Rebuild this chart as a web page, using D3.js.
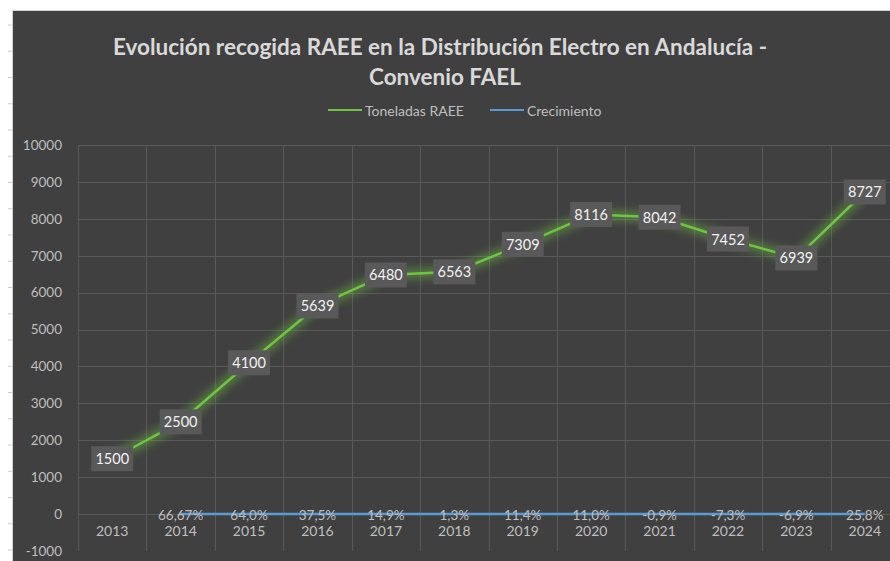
<!DOCTYPE html>
<html>
<head>
<meta charset="utf-8">
<script src="https://cdn.jsdelivr.net/npm/d3@7"></script>
<style>
  html, body { margin: 0; padding: 0; background: #ffffff; }
  svg { display: block; }
</style>
</head>
<body>
<div id="chart"></div>
<script>

// Data
var years = ["2013", "2014", "2015", "2016", "2017", "2018", "2019", "2020", "2021", "2022", "2023", "2024"];
var toneladas = [1500, 2500, 4100, 5639, 6480, 6563, 7309, 8116, 8042, 7452, 6939, 8727];
var crecimiento = [null, 0.6667, 0.640, 0.375, 0.149, 0.013, 0.114, 0.110, -0.009, -0.073, -0.069, 0.258];
var crecimientoLabels = ["", "66,67%", "64,0%", "37,5%", "14,9%", "1,3%", "11,4%", "11,0%", "-0,9%", "-7,3%", "-6,9%", "25,8%"];
var yTicks = [-1000, 0, 1000, 2000, 3000, 4000, 5000, 6000, 7000, 8000, 9000, 10000];
var seriesNames = ["Toneladas RAEE", "Crecimiento"];

var config = {
  width: 890,
  height: 561,
  bg: "#404040",
  grid: "#595959",
  text: "#bfbfbf",
  green: "#70c443",
  blue: "#5b9bd5",
  font: "Lato, 'Open Sans', sans-serif",
  plot: { left: 78, right: 899, top: 145, bottom: 551 }
};

var svg = d3.select("#chart").append("svg")
  .attr("width", config.width)
  .attr("height", config.height);

var defs = svg.append("defs");

defs.append("filter")
  .attr("id", "glow")
  .attr("x", "-20%").attr("y", "-50%")
  .attr("width", "140%").attr("height", "200%")
  .append("feGaussianBlur")
    .attr("stdDeviation", 4);

// spreadsheet margin ticks (white strip on the left)
var rowTicks = d3.range(25, 561, 26.25);
svg.selectAll(".row-tick")
  .data(rowTicks)
  .enter()
  .append("line")
    .attr("x1", 8).attr("x2", 12)
    .attr("y1", function(d){ return d; })
    .attr("y2", function(d){ return d; })
    .attr("stroke", "#cccccc");

// chart area frame
svg.append("rect")
  .attr("x", 12.5)
  .attr("y", 10.5)
  .attr("width", config.width)
  .attr("height", config.height)
  .attr("fill", config.bg)
  .attr("stroke", "#d4d4d4")
  .attr("stroke-width", 1);

// scales
var x = d3.scaleBand()
  .domain(years)
  .range([config.plot.left, config.plot.right]);

var y = d3.scaleLinear()
  .domain([-1000, 10000])
  .range([config.plot.bottom, config.plot.top]);

var cx = function(d){ return x(d) + x.bandwidth() / 2; };

// gridlines
var grid = svg.append("g").attr("class", "grid");

grid.selectAll(".h")
  .data(yTicks.filter(function(d){ return d > -1000; }))
  .enter()
  .append("line")
    .attr("x1", config.plot.left)
    .attr("x2", config.plot.right)
    .attr("y1", function(d){ return Math.round(y(d)) + 0.5; })
    .attr("y2", function(d){ return Math.round(y(d)) + 0.5; })
    .attr("stroke", config.grid)
    .attr("stroke-width", 1);

grid.selectAll(".v")
  .data(years)
  .enter()
  .append("line")
    .attr("x1", function(d){ return Math.round(x(d)) + 0.5; })
    .attr("x2", function(d){ return Math.round(x(d)) + 0.5; })
    .attr("y1", config.plot.top)
    .attr("y2", config.plot.bottom)
    .attr("stroke", config.grid)
    .attr("stroke-width", 1);

// y axis labels (plain hyphen for negatives, like the original)
var yAxis = d3.axisLeft(y)
  .tickValues(yTicks)
  .tickFormat(function(d){ return String(d); })
  .tickSize(0)
  .tickPadding(0);

var yG = svg.append("g")
  .attr("transform", "translate(62,0)")
  .call(yAxis);
yG.select(".domain").remove();
yG.selectAll("text")
  .attr("fill", config.text)
  .attr("font-family", config.font)
  .attr("font-size", "13.5px");

// x axis labels (category axis sits at 0, labels just below)
var xAxis = d3.axisBottom(x).tickSize(0).tickPadding(0);
var xG = svg.append("g")
  .attr("transform", "translate(0," + (y(0) + 12) + ")")
  .call(xAxis);
xG.select(".domain").remove();
xG.selectAll("text")
  .attr("fill", config.text)
  .attr("font-family", config.font)
  .attr("font-size", "14px");

// lines
var greenLine = d3.line()
  .x(function(d, i){ return cx(years[i]); })
  .y(function(d){ return y(d); });

var blueLine = d3.line()
  .defined(function(d){ return d !== null; })
  .x(function(d, i){ return cx(years[i]); })
  .y(function(d){ return y(d); });

var lines = svg.append("g").attr("class", "lines");

[[crecimiento, blueLine, config.blue], [toneladas, greenLine, config.green]].forEach(function(s){
  lines.append("path")
    .datum(s[0])
    .attr("d", s[1])
    .attr("fill", "none")
    .attr("stroke", s[2])
    .attr("stroke-width", 10)
    .attr("stroke-opacity", 0.45)
    .attr("filter", "url(#glow)");

  lines.append("path")
    .datum(s[0])
    .attr("d", s[1])
    .attr("fill", "none")
    .attr("stroke", s[2])
    .attr("stroke-width", 2.5)
    .attr("stroke-linejoin", "round");
});

// growth labels, sitting on the blue line
svg.append("g").selectAll("text")
  .data(crecimiento)
  .enter()
  .filter(function(d){ return d !== null; })
  .append("text")
    .attr("x", function(d){ return cx(years[crecimiento.indexOf(d)]); })
    .attr("y", function(d){ return y(d) + 1; })
    .attr("text-anchor", "middle")
    .attr("dominant-baseline", "central")
    .attr("fill", config.text)
    .attr("font-family", config.font)
    .attr("font-size", "13.5px")
    .text(function(d){ return crecimientoLabels[crecimiento.indexOf(d)]; });

// data labels for toneladas
var labels = svg.append("g").selectAll("g")
  .data(toneladas)
  .enter()
  .append("g")
    .attr("transform", function(d, i){
      return "translate(" + cx(years[i]) + "," + y(d) + ")";
    });

labels.append("rect")
  .attr("x", -21)
  .attr("y", -12.5)
  .attr("width", 42)
  .attr("height", 25)
  .attr("fill", "#595959");

labels.append("text")
  .attr("text-anchor", "middle")
  .attr("dominant-baseline", "central")
  .attr("fill", "#f2f2f2")
  .attr("font-family", config.font)
  .attr("font-size", "14.5px")
  .text(function(d){ return d; });

// title
var title = svg.append("g")
  .attr("font-family", config.font)
  .attr("font-weight", "bold")
  .attr("font-size", "22.5px")
  .attr("fill", "#d9d9d9")
  .attr("text-anchor", "middle");

title.append("text")
  .attr("x", 440)
  .attr("y", 55)
  .text("Evolución recogida RAEE en la Distribución Electro en Andalucía -");

title.append("text")
  .attr("x", 445)
  .attr("y", 85)
  .text("Convenio FAEL");

// legend
var legendPos = [{ x: 328, color: config.green }, { x: 490, color: config.blue }];
var legend = svg.append("g").selectAll("g")
  .data(seriesNames)
  .enter()
  .append("g")
    .attr("transform", function(d, i){ return "translate(" + legendPos[i].x + ",110)"; });

legend.append("line")
  .attr("x1", 0).attr("x2", 34)
  .attr("stroke", function(d, i){ return legendPos[i].color; })
  .attr("stroke-width", 2);

legend.append("text")
  .attr("x", 37)
  .attr("dominant-baseline", "central")
  .attr("fill", config.text)
  .attr("font-family", config.font)
  .attr("font-size", "14px")
  .text(function(d){ return d; });

</script>
</body>
</html>
